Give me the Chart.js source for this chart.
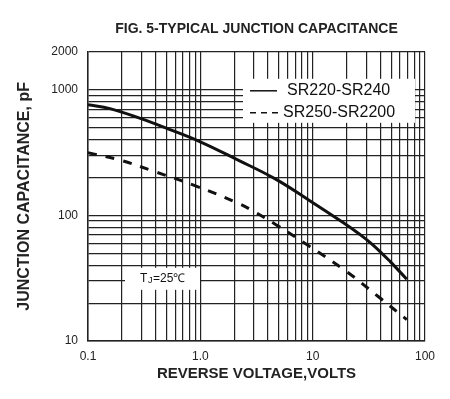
<!DOCTYPE html>
<html>
<head>
<meta charset="utf-8">
<script src="https://cdn.jsdelivr.net/npm/chart.js@4"></script>
<style>
  body { margin: 0; background: #fff; }
  #wrap { width: 450px; height: 399px; }
</style>
</head>
<body>
<div id="wrap"><canvas id="capChart" width="450" height="399"></canvas></div>
<script>
// values
const voltsA = [0.1, 0.157, 0.292, 0.508, 1.01, 2.17, 4.64, 9.28, 18.5, 26, 34.5, 48.8, 68.8];
const capA = [760, 706, 590, 490, 383, 275, 195, 132, 88, 71, 58, 43, 31];
const voltsB = [0.1, 0.193, 0.385, 0.883, 2.17, 2.86, 4.64, 9.28, 19.8, 38.3, 68.8];
const capB = [315, 275, 224, 173, 125, 110, 85, 57, 36, 22.6, 14.8];

const seriesNames = ["SR220-SR240", "SR250-SR2200"];

// grid lines / ticks
const xGrid = [0.1, 0.2, 0.3, 0.4, 0.5, 0.6, 0.7, 0.8, 0.9,
  1, 2, 3, 4, 5, 6, 7, 8, 9, 10, 20, 30, 40, 50, 60, 70, 80, 90, 100];
const yGrid = [10, 20, 30, 40, 50, 60, 70, 80, 90,
  100, 200, 300, 400, 500, 600, 700, 800, 900, 1000, 2000];
const xLabels = { 0.1: "0.1", 1: "1.0", 10: "10", 100: "100" };
const yLabels = { 10: "10", 100: "100", 1000: "1000", 2000: "2000" };

const FONT = "'Liberation Sans', Arial, sans-serif";

function toPoints(xs, ys) {
  return xs.map((x, i) => ({ x: x, y: ys[i] }));
}

// legend box + Tj note drawn inside the plot
const insidePlugin = {
  id: "insideNotes",
  afterDraw(chart) {
    const ctx = chart.ctx;
    const area = chart.chartArea;
    ctx.save();

    // legend
    const lx = area.left + 155;
    const ly = area.top + 27;
    ctx.fillStyle = "#fff";
    ctx.fillRect(lx, ly, 172, 44);
    ctx.strokeStyle = "#111";
    ctx.lineWidth = 1.5;
    ctx.beginPath();
    ctx.moveTo(lx + 7, ly + 12);
    ctx.lineTo(lx + 34, ly + 12);
    ctx.stroke();
    ctx.setLineDash([6, 5]);
    ctx.beginPath();
    ctx.moveTo(lx + 7, ly + 34);
    ctx.lineTo(lx + 38, ly + 34);
    ctx.stroke();
    ctx.setLineDash([]);
    ctx.fillStyle = "#111";
    ctx.font = "16px " + FONT;
    ctx.textBaseline = "middle";
    ctx.fillText(seriesNames[0], lx + 44, ly + 12);
    ctx.fillText(seriesNames[1], lx + 40, ly + 34);

    // Tj = 25 C
    const tx = area.left + 37;
    const ty = area.top + 216;
    ctx.fillStyle = "#fff";
    ctx.fillRect(tx, ty, 75, 22);
    ctx.fillStyle = "#111";
    ctx.font = "12px " + FONT;
    ctx.fillText("T", tx + 15, ty + 11);
    ctx.font = "9px " + FONT;
    ctx.fillText("J", tx + 23, ty + 13);
    ctx.font = "12px " + FONT;
    ctx.fillText("=25℃", tx + 28, ty + 11);

    ctx.restore();
  },
};

const ctx = document.getElementById("capChart").getContext("2d");

let capChart = new Chart(ctx, {
  type: "line",
  data: {
    datasets: [
      {
        label: seriesNames[0],
        data: toPoints(voltsA, capA),
        borderColor: "#111",
        borderWidth: 3,
        pointRadius: 0,
        tension: 0.4,
        fill: false,
      },
      {
        label: seriesNames[1],
        data: toPoints(voltsB, capB),
        borderColor: "#111",
        borderWidth: 3,
        borderDash: [9, 9],
        pointRadius: 0,
        tension: 0.4,
        fill: false,
      },
    ],
  },
  options: {
    responsive: false,
    animation: false,
    layout: { padding: { left: 0, right: 25, top: 0, bottom: 0 } },
    scales: {
      x: {
        type: "logarithmic",
        min: 0.1,
        max: 100,
        afterBuildTicks: (scale) => {
          scale.ticks = xGrid.map((v) => ({ value: v }));
        },
        afterFit: (scale) => {
          scale.height = 58;
        },
        grid: { color: "#222", lineWidth: 1.2, drawTicks: false },
        border: { color: "#222", width: 1.5 },
        ticks: {
          autoSkip: false,
          maxRotation: 0,
          padding: 8,
          color: "#222",
          font: { family: FONT, size: 12 },
          callback: (value) => xLabels[value] || "",
        },
        title: {
          display: true,
          text: "REVERSE VOLTAGE,VOLTS",
          color: "#222",
          padding: { top: 0, bottom: 16 },
          font: { family: FONT, size: 15, weight: "bold" },
        },
      },
      y: {
        type: "logarithmic",
        min: 10,
        max: 2000,
        afterBuildTicks: (scale) => {
          scale.ticks = yGrid.map((v) => ({ value: v }));
        },
        afterFit: (scale) => {
          scale.width = 88;
        },
        grid: { color: "#222", lineWidth: 1.2, drawTicks: false },
        border: { color: "#222", width: 1.5 },
        ticks: {
          autoSkip: false,
          padding: 10,
          color: "#222",
          font: { family: FONT, size: 12 },
          callback: (value) => yLabels[value] || "",
        },
        title: {
          display: true,
          text: "JUNCTION CAPACITANCE, pF",
          color: "#222",
          padding: { top: 15, bottom: 0 },
          font: { family: FONT, size: 16, weight: "bold" },
        },
      },
    },
    plugins: {
      legend: { display: false },
      tooltip: { enabled: false },
      title: {
        display: true,
        fullSize: false,
        text: "FIG. 5-TYPICAL JUNCTION CAPACITANCE",
        color: "#222",
        padding: { top: 21, bottom: 14 },
        font: { family: FONT, size: 14, weight: "bold" },
      },
    },
  },
  plugins: [insidePlugin],
});
</script>
</body>
</html>
